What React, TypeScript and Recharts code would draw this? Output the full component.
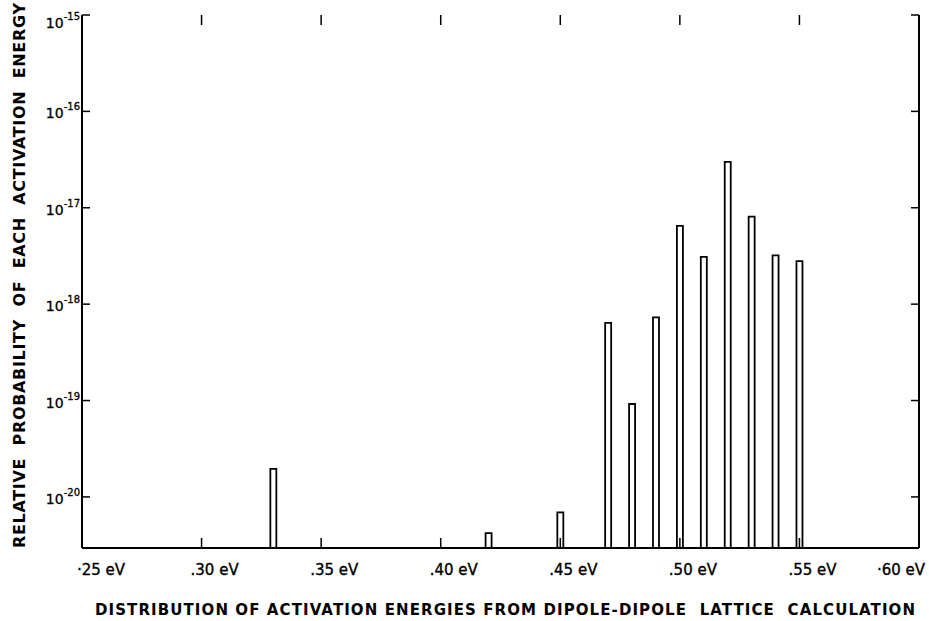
import React from "react";
import { BarChart, Bar, XAxis, YAxis } from "recharts";

// activation energy (eV) and relative probability
const energies = [0.33, 0.42, 0.45, 0.47, 0.48, 0.49, 0.50, 0.51, 0.52, 0.53, 0.54, 0.55];
const probs = [1.95e-20, 4.2e-21, 6.9e-21, 6.4e-19, 9.2e-20, 7.3e-19, 6.5e-18, 3.1e-18, 3.0e-17, 8.1e-18, 3.2e-18, 2.8e-18];

const xTicks = [0.25, 0.30, 0.35, 0.40, 0.45, 0.50, 0.55, 0.60];
const xTickLabels = ["·25 eV", ".30 eV", ".35 eV", ".40 eV", ".45 eV", ".50 eV", ".55 eV", "·60 eV"];
const yTicks = [1e-20, 1e-19, 1e-18, 1e-17, 1e-16, 1e-15];
const yDomain: [number, number] = [2.95e-21, 1e-15];

const Y_TITLE = "RELATIVE  PROBABILITY  OF  EACH  ACTIVATION  ENERGY";
const X_TITLE = "DISTRIBUTION OF ACTIVATION ENERGIES FROM DIPOLE-DIPOLE  LATTICE  CALCULATION";

const data = energies.map((ev, i) => ({ ev, p: probs[i] }));

const FONT = "'DejaVu Sans', sans-serif";
const W = 929, H = 621;
const MARGIN = { top: 15, right: 9, bottom: 43, left: 0 };
const AXIS = { stroke: "#000", strokeWidth: 2 };
const TICK = { stroke: "#000", strokeWidth: 1.5 };

// bottom label, plus the matching inward tick on the top edge of the frame
function XTick(props: any) {
  const { x, y, index } = props;
  const last = index === xTicks.length - 1;
  const first = index === 0;
  return (
    <g>
      {!first && !last && (
        <line x1={x} x2={x} y1={MARGIN.top} y2={MARGIN.top + 10} {...TICK} />
      )}
      <text x={last ? W - 4 : first ? x - 5 : x - 11} y={y + 17}
        textAnchor={last ? "end" : "start"}
        fontFamily={FONT} fontSize={15} fill="#000" stroke="#000" strokeWidth={0.35}>
        {xTickLabels[index]}
      </text>
    </g>
  );
}

function YTick(props: any) {
  const { x, y, payload, index } = props;
  const exp = Math.round(Math.log10(payload.value));
  const dy = index === yTicks.length - 1 ? 6 : 0;
  return (
    <text x={x} y={y + 7 + dy} textAnchor="end" fontFamily={FONT} fill="#000" stroke="#000" strokeWidth={0.3}>
      <tspan fontSize={14}>10</tspan>
      <tspan fontSize={10} dy={-8}>{exp}</tspan>
    </text>
  );
}

// right side of the frame only carries tick marks
const NoLabel = () => <g />;

export default function App() {
  return (
    <div style={{ position: "relative", width: W, height: H, background: "#fff" }}>
      <style>{"body{margin:0;background:#fff}"}</style>
      <BarChart width={W} height={H} data={data} margin={MARGIN}>
        <XAxis xAxisId="b" dataKey="ev" type="number" domain={[0.25, 0.6]} ticks={xTicks}
          height={30} tickSize={-10} tickMargin={20} interval={0}
          axisLine={AXIS} tickLine={TICK} tick={<XTick />} />
        <XAxis xAxisId="t" dataKey="ev" type="number" orientation="top" domain={[0.25, 0.6]} ticks={xTicks}
          height={0} interval={0} axisLine={AXIS} tickLine={false} tick={false} />
        <YAxis yAxisId="l" scale="log" type="number" domain={yDomain} allowDataOverflow ticks={yTicks}
          width={82} tickSize={-8} tickMargin={10} interval={0}
          axisLine={AXIS} tickLine={TICK} tick={<YTick />} />
        <YAxis yAxisId="r" orientation="right" scale="log" type="number" domain={yDomain} allowDataOverflow ticks={yTicks}
          width={1} tickSize={-8} interval={0}
          axisLine={AXIS} tickLine={TICK} tick={<NoLabel />} />
        <Bar xAxisId="b" yAxisId="l" dataKey="p" barSize={6} fill="#fff" stroke="#000" strokeWidth={1.8}
          isAnimationActive={false} />
      </BarChart>
      <svg width={W} height={H} style={{ position: "absolute", left: 0, top: 0, pointerEvents: "none" }}>
        <text transform="translate(25,548) rotate(-90)" x={0} y={0} textLength={545} lengthAdjust="spacing"
          fontFamily={FONT} fontWeight="bold" fontSize={16} fill="#000" style={{ whiteSpace: "pre" }}>
          {Y_TITLE}
        </text>
        <text x={95} y={615} textLength={820} lengthAdjust="spacing"
          fontFamily={FONT} fontWeight="bold" fontSize={15} fill="#000" style={{ whiteSpace: "pre" }}>
          {X_TITLE}
        </text>
      </svg>
    </div>
  );
}
